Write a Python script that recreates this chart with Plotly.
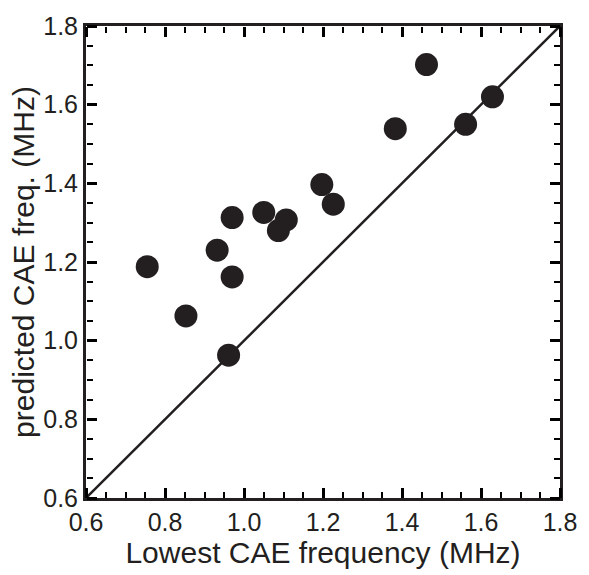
import plotly.graph_objects as go

lowest_freq = [0.755, 0.853, 0.932, 0.970, 0.970, 0.961, 1.050, 1.087, 1.107,
               1.197, 1.226, 1.462, 1.383, 1.561, 1.629]
predicted_freq = [1.188, 1.063, 1.230, 1.313, 1.162, 0.963, 1.326, 1.280, 1.307,
                  1.397, 1.347, 1.702, 1.539, 1.550, 1.620]
diag = [0.6, 1.8]

ink = "#231f20"
font = "Liberation Sans, Arial, Helvetica, sans-serif"

fig = go.Figure()
fig.add_trace(go.Scatter(x=diag, y=diag, mode="lines", xaxis="x2", yaxis="y2",
                         line=dict(color=ink, width=2.5), hoverinfo="skip"))
fig.add_trace(go.Scatter(x=lowest_freq, y=predicted_freq, mode="markers", xaxis="x3", yaxis="y3",
                         marker=dict(size=23, color=ink, line=dict(width=0))))
fig.add_trace(go.Scatter(x=lowest_freq, y=predicted_freq, mode="markers",
                         marker=dict(size=7, color="#9a9a9a", symbol="circle-open",
                                     line=dict(width=1))))

# labelled frame axes
frame = dict(
    range=[0.6, 1.8], tick0=0.6, dtick=0.2, tickformat=".1f",
    showgrid=False, zeroline=False,
    showline=True, linecolor=ink, linewidth=3, mirror=True,
    ticks="", tickfont=dict(size=25, color=ink),
)
# tick-only axes placed on the frame edges, "outside" ticks pointing into the plot
tick_axis = dict(
    range=[0.6, 1.8], tick0=0.6, dtick=0.2,
    showgrid=False, zeroline=False, showline=False, showticklabels=False,
    ticks="outside", ticklen=10, tickwidth=3, tickcolor="black",
    minor=dict(ticks="outside", ticklen=6, tickwidth=2, tickcolor="black", dtick=0.05),
    anchor="free", automargin=False,
)

fig.update_layout(
    width=589, height=575,
    margin=dict(l=86, r=22, t=18, b=77),
    paper_bgcolor="white", plot_bgcolor="white",
    showlegend=False,
    font=dict(family=font, color=ink),
    xaxis=dict(**frame, title=dict(text="Lowest CAE frequency (MHz)", font=dict(size=30), standoff=0)),
    yaxis=dict(**frame, title=dict(text="predicted CAE freq. (MHz)", font=dict(size=30), standoff=0)),
    xaxis2=dict(**tick_axis, overlaying="x", side="top", position=0),
    xaxis3=dict(**tick_axis, overlaying="x", side="bottom", position=1),
    yaxis2=dict(**tick_axis, overlaying="y", side="right", position=0),
    yaxis3=dict(**tick_axis, overlaying="y", side="left", position=1),
)

fig.write_html("out.html")
